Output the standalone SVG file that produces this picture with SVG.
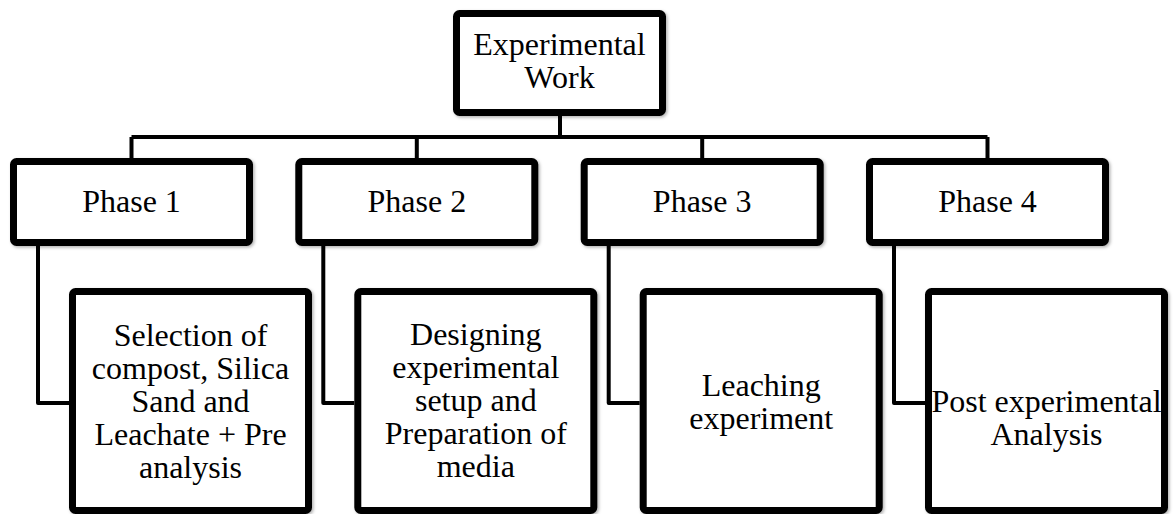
<svg xmlns="http://www.w3.org/2000/svg" width="1173" height="514" viewBox="0 0 1173 514">
<style>
.box{fill:#fff;stroke:#000;stroke-width:7;filter:url(#sh)}
.con{fill:none;stroke:#000;stroke-width:4;stroke-linejoin:round}
text{font-family:"Liberation Serif","Times New Roman",serif;font-size:32px;fill:#000;text-anchor:middle}
</style>
<defs>
<filter id="sh" x="-10%" y="-10%" width="120%" height="120%">
<feDropShadow dx="1.5" dy="1.5" stdDeviation="1.5" flood-color="#000" flood-opacity="0.3"/>
</filter>
</defs>
<rect width="1173" height="514" fill="#fff"/>
<g id="connectors">
<path class="con" d="M560 116V137M131.5 137H987.5M131.5 137V158M416.8 137V158M702.2 137V158M987.5 137V158"/>
<path class="con" d="M38 246V403H69"/>
<path class="con" d="M323.3 246V403H354.3"/>
<path class="con" d="M608.7 246V403H639.7"/>
<path class="con" d="M894 246V403H925"/>
</g>
<g id="root">
<rect class="box" x="456.5" y="13.5" width="206" height="99" rx="3"/>
<text x="559.5" y="55">Experimental</text>
<text x="559.5" y="88">Work</text>
</g>
<g id="phase1">
<rect class="box" x="13.5" y="161.5" width="236" height="81" rx="3"/>
<text x="131.5" y="212">Phase 1</text>
</g>
<g id="phase2">
<rect class="box" x="298.8" y="161.5" width="236" height="81" rx="3"/>
<text x="416.8" y="212">Phase 2</text>
</g>
<g id="phase3">
<rect class="box" x="584.2" y="161.5" width="236" height="81" rx="3"/>
<text x="702.2" y="212">Phase 3</text>
</g>
<g id="phase4">
<rect class="box" x="869.5" y="161.5" width="236" height="81" rx="3"/>
<text x="987.5" y="212">Phase 4</text>
</g>
<g id="task1">
<rect class="box" x="72.5" y="291.5" width="236" height="219" rx="3"/>
<text x="190.5" y="346">Selection of</text>
<text x="190.5" y="379">compost, Silica</text>
<text x="190.5" y="412">Sand and</text>
<text x="190.5" y="445">Leachate + Pre</text>
<text x="190.5" y="478">analysis</text>
</g>
<g id="task2">
<rect class="box" x="357.8" y="291.5" width="236" height="219" rx="3"/>
<text x="475.8" y="345">Designing</text>
<text x="475.8" y="378">experimental</text>
<text x="475.8" y="411">setup and</text>
<text x="475.8" y="444">Preparation of</text>
<text x="475.8" y="477">media</text>
</g>
<g id="task3">
<rect class="box" x="643.2" y="291.5" width="236" height="219" rx="3"/>
<text x="761.2" y="396">Leaching</text>
<text x="761.2" y="429">experiment</text>
</g>
<g id="task4">
<rect class="box" x="928.5" y="291.5" width="236" height="219" rx="3"/>
<text x="1046.5" y="412">Post experimental</text>
<text x="1046.5" y="445">Analysis</text>
</g>
</svg>
